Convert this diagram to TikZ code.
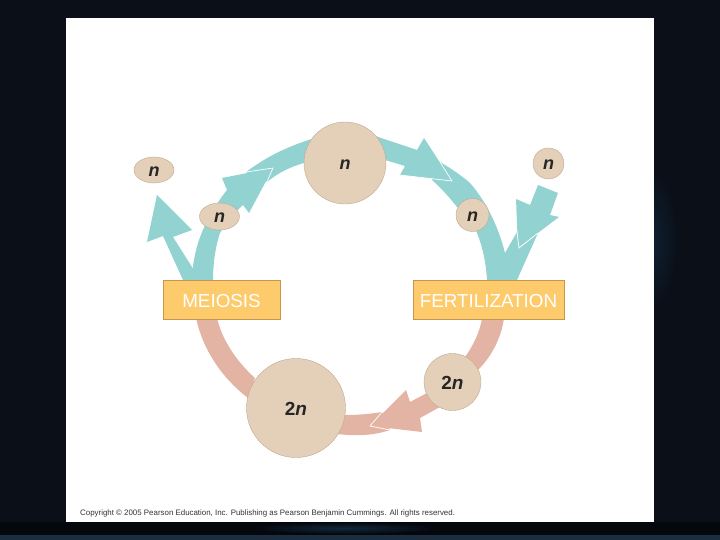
\documentclass[tikz,border=0pt]{standalone}
\usetikzlibrary{shapes.geometric}
\usepackage{fontspec}
\setmainfont{Liberation Sans}
\definecolor{bgdark}{HTML}{0A0F18}
\definecolor{bgdeep}{HTML}{04070C}
\definecolor{bgglow}{HTML}{12283C}
\definecolor{bgline}{HTML}{1A2E40}
\definecolor{teal}{HTML}{92D3D2}
\definecolor{pinkband}{HTML}{E3B3A3}
\definecolor{cell}{HTML}{E4D0B9}
\definecolor{celledge}{HTML}{BFA98F}
\definecolor{boxfill}{HTML}{FDCB6B}
\definecolor{boxedge}{HTML}{C4964E}
\newcommand{\nudge}[1]{\raisebox{-1.3pt}[\height][\depth]{#1}}
\tikzset{
  band/.style={fill=teal,draw=none},
  pband/.style={fill=pinkband,draw=none},
  tipline/.style={draw=white,line width=0.7pt,line join=miter},
  cellnode/.style={draw=celledge,line width=0.4pt,fill=cell,inner sep=0pt,font=\fontsize{18}{18}\selectfont\bfseries\itshape,text=black!85},
  twonnode/.style={cellnode,font=\fontsize{19}{19}\selectfont\bfseries},
  procbox/.style={draw=boxedge,line width=0.8pt,fill=boxfill,minimum height=39pt,inner sep=0pt,text=white,font=\fontsize{18.8}{19}\selectfont},
}
\begin{document}
\begin{tikzpicture}[x=1pt,y=-1pt]
\useasboundingbox (0,0) rectangle (720,540);
\fill[bgdark] (0,0) rectangle (720,540);
\shade[inner color=bgglow!65!bgdark,outer color=bgdark] (654,240) ellipse (24 and 70);
\fill[bgdeep] (0,522) rectangle (720,535);
\shade[inner color=bgglow,outer color=bgdeep] (345,528) ellipse (95 and 6);
\fill[bgline] (0,535) rectangle (720,540);
\fill[white] (66,18) rectangle (654,522);
% left teal band with arrowhead and onward arc
\fill[band] (246,172) .. controls (265,158) and (285,147) .. (315,138) -- (315,160) .. controls (290,166) and (278,173) .. (267,182) -- cycle;
\fill[band] (192,280) .. controls (192,265) and (196,250) .. (198,243) .. controls (205,222) and (215,205) .. (227,190) -- (222,178) -- (273,168) -- (249,213) -- (243,205) .. controls (232,215) and (225,225) .. (220,233) .. controls (215,248) and (213,265) .. (213,280) -- cycle;
\draw[tipline] (246,172) -- (273,168) -- (267,182);
% branch arrow to upper-left n
\fill[band] (183,280) -- (163,236) -- (147,242) -- (157,195) -- (192,230) -- (173,237) -- (192,267) -- (200,280) -- cycle;
% right teal band
\fill[band] (375,136) -- (417,150) -- (424,138) -- (452,181) -- (400,175) -- (405,166) -- (375,157) -- cycle;
\fill[band] (440,162) .. controls (452,169) and (462,176) .. (470,183) .. controls (485,200) and (498,225) .. (505,253) -- (517,232) -- (519,248) -- (538,233) -- (517,280) -- (487,280) .. controls (486,262) and (482,245) .. (477,233) .. controls (472,222) and (465,214) .. (457,207) .. controls (450,198) and (441,188) .. (432,180) -- cycle;
\draw[tipline] (400,175) -- (452,181) -- (440,162);
% arrow from upper-right n
\fill[band] (538,185) -- (558,193) -- (550,215) -- (559,217) -- (518,248) -- (516,199) -- (530,205) -- cycle;
\draw[tipline] (517,232) -- (519,248) -- (538,233);
% pink bands
\fill[pband] (196,318) -- (217,318) .. controls (222,340) and (237,362) .. (255,378) -- (248,398) .. controls (222,378) and (203,350) .. (196,318) -- cycle;
\fill[pband] (482,318) -- (504,318) .. controls (501,340) and (490,358) .. (478,370) -- (465,357) .. controls (473,346) and (480,332) .. (482,318) -- cycle;
\fill[pband] (345,415) .. controls (358,415) and (370,414) .. (382,412) -- (390,430) .. controls (372,436) and (355,436) .. (337,434) -- cycle;
\fill[pband] (427,393) -- (440,407) -- (420,418) -- (422,432) -- (370,426) -- (406,390) -- (410,402) -- cycle;
\draw[tipline] (382,412) -- (370,426) -- (390,430);
% process boxes
\node[procbox,minimum width=117pt] (meiosis) at (221.5,299.5) {\nudge{MEIOSIS}};
\node[procbox,minimum width=151pt] (fert) at (488.5,299.5) {\nudge{FERTILIZATION}};
% cells
\node[cellnode,circle,minimum size=82pt] (top) at (345,163) {\nudge{n}};
\node[cellnode,ellipse,minimum width=40pt,minimum height=26pt] (left) at (154,170) {\nudge{n}};
\node[cellnode,ellipse,minimum width=40pt,minimum height=27pt] (mid) at (219.5,216.5) {\nudge{n}};
\node[cellnode,circle,minimum size=33pt] (midr) at (472.5,215) {\nudge{n}};
\node[cellnode,circle,minimum size=31pt] (right) at (548.5,163.5) {\nudge{n}};
\node[twonnode,circle,minimum size=57pt] (small) at (452.5,382) {\nudge{2\textit{n}}};
\node[twonnode,circle,minimum size=99pt] (big) at (296,408) {\nudge{2\textit{n}}};
\node[anchor=west,inner sep=0pt,text=black!80,font=\fontsize{7.9}{8}\selectfont] (copy) at (80,513) {Copyright © 2005 Pearson Education, Inc. Publishing as Pearson Benjamin Cummings. All rights reserved.};
\end{tikzpicture}
\end{document}
